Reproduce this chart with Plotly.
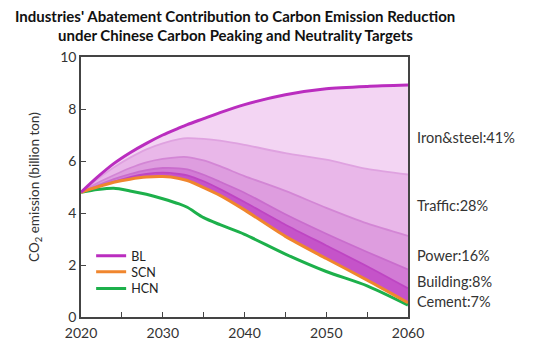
import plotly.graph_objects as go

years = [2020, 2022, 2024, 2026, 2028, 2030, 2032, 2033, 2035, 2037, 2040, 2045, 2050, 2055, 2060]
bl = [4.8, 5.38, 5.9, 6.32, 6.68, 7.0, 7.27, 7.4, 7.63, 7.86, 8.17, 8.55, 8.78, 8.87, 8.92]
b_iron = [4.8, 5.3, 5.75, 6.13, 6.45, 6.68, 6.84, 6.88, 6.85, 6.78, 6.62, 6.3, 6.05, 5.7, 5.48]
b_traffic = [4.8, 5.15, 5.45, 5.73, 5.95, 6.08, 6.15, 6.15, 6.02, 5.8, 5.42, 4.85, 4.2, 3.6, 3.12]
b_power = [4.8, 5.05, 5.3, 5.5, 5.65, 5.73, 5.72, 5.68, 5.47, 5.2, 4.78, 3.95, 3.2, 2.5, 1.83]
b_building = [4.8, 5.0, 5.2, 5.38, 5.5, 5.55, 5.5, 5.45, 5.22, 4.92, 4.42, 3.55, 2.75, 1.95, 1.1]
scn = [4.8, 5.0, 5.18, 5.3, 5.38, 5.4, 5.33, 5.25, 4.98, 4.68, 4.12, 3.1, 2.25, 1.42, 0.55]
hcn = [4.8, 4.9, 4.95, 4.85, 4.72, 4.55, 4.35, 4.22, 3.82, 3.55, 3.18, 2.42, 1.75, 1.2, 0.46]

industries = ["Iron&steel:41%", "Traffic:28%", "Power:16%", "Building:8%", "Cement:7%"]
label_y = [6.92, 4.27, 2.35, 1.38, 0.58]
title_lines = ["Industries' Abatement Contribution to Carbon Emission Reduction",
               "under Chinese Carbon Peaking and Neutrality Targets"]

x_ticks = [2020, 2030, 2040, 2050, 2060]
y_ticks = [0, 2, 4, 6, 8, 10]

FONT = "Lato"
fill_colors = ["#F3D5F3", "#E9B7E9", "#DE9DDF", "#D27BD5", "#C553C9"]
edge_colors = ["#DFA2E0", "#D386D5", "#C96DCD", "#BE45C3"]
SPL = dict(shape="spline", smoothing=0.7)

fig = go.Figure()

# base (cement lower bound = SCN)
fig.add_trace(go.Scatter(x=years, y=scn, mode="lines", line=dict(width=0, **SPL),
                         showlegend=False, hoverinfo="skip"))
bounds = [b_building, b_power, b_traffic, b_iron, bl]
fills = [fill_colors[4], fill_colors[3], fill_colors[2], fill_colors[1], fill_colors[0]]
for b, fc in zip(bounds, fills):
    fig.add_trace(go.Scatter(x=years, y=b, mode="lines", fill="tonexty", fillcolor=fc,
                             line=dict(width=0, **SPL), showlegend=False, hoverinfo="skip"))

# boundary lines
for b, ec in zip([b_iron, b_traffic, b_power, b_building], edge_colors):
    fig.add_trace(go.Scatter(x=years, y=b, mode="lines", line=dict(width=1.8, color=ec, **SPL),
                             showlegend=False, hoverinfo="skip"))

fig.add_trace(go.Scatter(x=years, y=hcn, mode="lines", name="HCN", legend="legend3",
                         line=dict(width=3, color="#1DB04B", **SPL)))
fig.add_trace(go.Scatter(x=years, y=scn, mode="lines", name="SCN", legend="legend2",
                         line=dict(width=3, color="#F0862E", **SPL)))
fig.add_trace(go.Scatter(x=years, y=bl, mode="lines", name="BL", legend="legend",
                         line=dict(width=3, color="#BA2DBF", **SPL)))

for txt, yy in zip(industries, label_y):
    fig.add_annotation(x=1.022, xref="paper", y=yy, yref="y", text=txt, showarrow=False,
                       xanchor="left", yanchor="middle", font=dict(family=FONT, size=14.5, color="#333333"))

for txt, yy in zip(title_lines, [1.158, 1.085]):
    fig.add_annotation(x=0.471, xref="paper", y=yy, yref="paper", text="<b>" + txt + "</b>",
                       showarrow=False, xanchor="center", yanchor="middle", borderpad=0,
                       font=dict(family=FONT, size=15, color="#111111"))

fig.add_annotation(x=-0.141, xref="paper", y=0.5, yref="paper", text="CO<sub>2</sub> emission (billion ton)",
                   textangle=-90, showarrow=False, xanchor="center", yanchor="middle",
                   font=dict(family=FONT, size=13.5, color="#333333"))

leg = dict(x=0.031, xanchor="left", yanchor="middle", bgcolor="rgba(0,0,0,0)",
           font=dict(family=FONT, size=12.5, color="#222222"), itemwidth=30)
fig.update_layout(
    width=529, height=349,
    margin=dict(l=73, r=129, t=49, b=40),
    paper_bgcolor="white", plot_bgcolor="white",
    legend=dict(y=0.2346, **leg),
    legend2=dict(y=0.173, **leg),
    legend3=dict(y=0.1077, **leg),
    showlegend=True,
)

fig.update_xaxes(range=[2020, 2060], tickvals=x_ticks, ticks="inside", ticklen=5, automargin=False,
                 ticklabelstandoff=2,
                 minor=dict(dtick=5, ticks="inside", ticklen=5, tickcolor="#444"),
                 showline=True, linecolor="#444", linewidth=1.5, mirror=True, showgrid=False,
                 zeroline=False, tickcolor="#444", tickfont=dict(family=FONT, size=14, color="#333"))
fig.update_yaxes(range=[0, 10], tickvals=y_ticks, ticks="inside", ticklen=5, automargin=False,
                 showline=True, linecolor="#444", linewidth=1.5, mirror=True, showgrid=False,
                 zeroline=False, tickcolor="#444", tickfont=dict(family=FONT, size=14, color="#333"))

fig.write_html("out.html")
